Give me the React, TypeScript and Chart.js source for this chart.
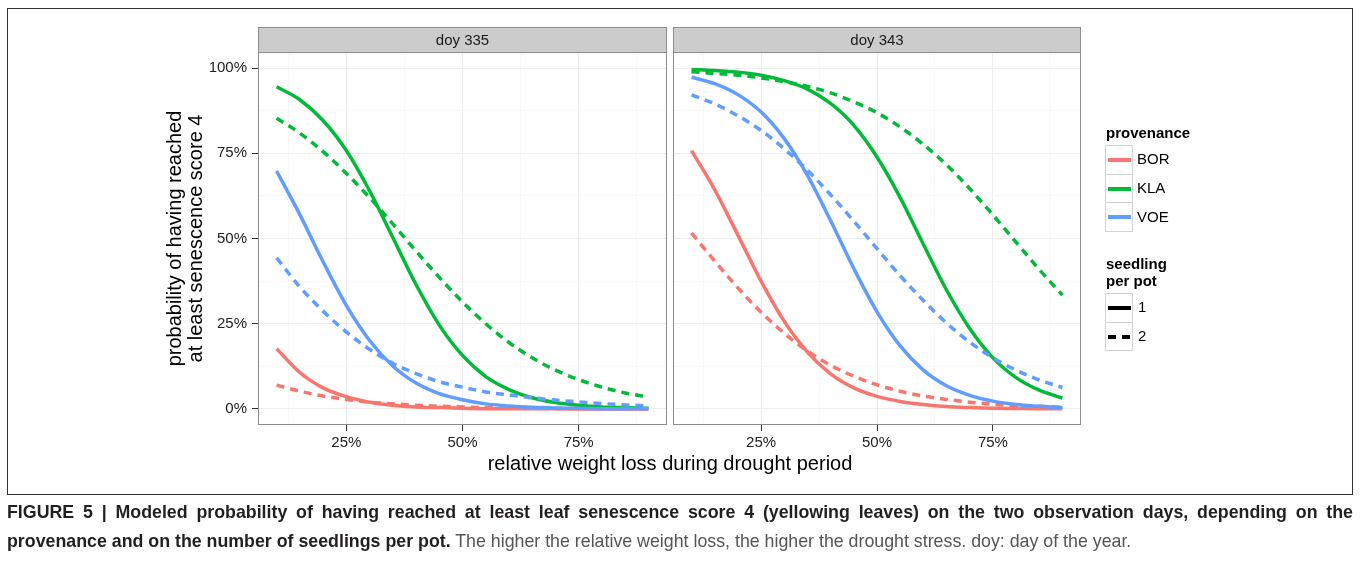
import React, { useEffect, useRef } from "react";
import { Chart, registerables } from "chart.js";

Chart.register(...registerables);

const FONT = '"Liberation Sans", Arial, Helvetica, sans-serif';

// ---------- data ----------
const panelLabels = ["doy 335", "doy 343"];
const provenances = ["BOR", "KLA", "VOE"];
const provenanceColors = ["#F8766D", "#00BA38", "#619CFF"];
const seedlingLevels = ["1", "2"];

const xLoss = [0.10, 0.15, 0.20, 0.25, 0.30, 0.35, 0.40, 0.45, 0.50, 0.55, 0.60, 0.65, 0.70, 0.75, 0.80, 0.85, 0.90];

const doy335_BOR_1 = [0.177, 0.107, 0.062, 0.036, 0.020, 0.011, 0.006, 0.004, 0.002, 0.001, 0.001, 0.0005, 0.0003, 0.0002, 0.0001, 0.0001, 0.0001];
const doy335_BOR_2 = [0.070, 0.052, 0.038, 0.028, 0.020, 0.015, 0.011, 0.008, 0.006, 0.004, 0.003, 0.002, 0.0015, 0.0011, 0.0008, 0.0006, 0.0004];
const doy335_KLA_1 = [0.945, 0.907, 0.846, 0.758, 0.640, 0.503, 0.365, 0.246, 0.157, 0.095, 0.057, 0.033, 0.019, 0.011, 0.006, 0.004, 0.002];
const doy335_KLA_2 = [0.853, 0.809, 0.755, 0.691, 0.620, 0.543, 0.463, 0.386, 0.314, 0.250, 0.195, 0.150, 0.114, 0.086, 0.064, 0.047, 0.035];
const doy335_VOE_1 = [0.698, 0.570, 0.432, 0.304, 0.201, 0.126, 0.076, 0.045, 0.027, 0.015, 0.009, 0.005, 0.003, 0.002, 0.001, 0.0006, 0.0003];
const doy335_VOE_2 = [0.443, 0.358, 0.287, 0.226, 0.175, 0.134, 0.104, 0.080, 0.064, 0.050, 0.041, 0.033, 0.026, 0.021, 0.016, 0.012, 0.009];

const doy343_BOR_1 = [0.758, 0.643, 0.510, 0.375, 0.257, 0.167, 0.103, 0.062, 0.037, 0.022, 0.013, 0.007, 0.004, 0.002, 0.0014, 0.0008, 0.0005];
const doy343_BOR_2 = [0.516, 0.434, 0.355, 0.284, 0.222, 0.170, 0.128, 0.096, 0.071, 0.052, 0.038, 0.028, 0.020, 0.014, 0.010, 0.008, 0.005];
const doy343_KLA_1 = [0.996, 0.993, 0.988, 0.979, 0.963, 0.938, 0.896, 0.832, 0.739, 0.620, 0.483, 0.349, 0.236, 0.150, 0.092, 0.055, 0.032];
const doy343_KLA_2 = [0.989, 0.984, 0.979, 0.971, 0.960, 0.946, 0.927, 0.901, 0.869, 0.827, 0.776, 0.716, 0.646, 0.569, 0.489, 0.409, 0.334];
const doy343_VOE_1 = [0.973, 0.954, 0.922, 0.871, 0.793, 0.685, 0.552, 0.412, 0.285, 0.185, 0.114, 0.068, 0.040, 0.023, 0.013, 0.008, 0.004];
const doy343_VOE_2 = [0.921, 0.895, 0.860, 0.817, 0.763, 0.700, 0.628, 0.551, 0.470, 0.391, 0.318, 0.252, 0.196, 0.150, 0.114, 0.085, 0.063];

const seriesByPanel = [
  { BOR: [doy335_BOR_1, doy335_BOR_2], KLA: [doy335_KLA_1, doy335_KLA_2], VOE: [doy335_VOE_1, doy335_VOE_2] },
  { BOR: [doy343_BOR_1, doy343_BOR_2], KLA: [doy343_KLA_1, doy343_KLA_2], VOE: [doy343_VOE_1, doy343_VOE_2] },
];

const yMajorTicks = [0, 0.25, 0.5, 0.75, 1];
const yMinorTicks = [0.125, 0.375, 0.625, 0.875];
const xMajorTicks = [0.25, 0.5, 0.75];
const xMinorTicks = [0.125, 0.375, 0.625, 0.875];
const xRange = [0.06, 0.94];
const yRange = [-0.047, 1.047];

const yTitle = ["probability of having reached", "at least senescence score 4"];
const xTitle = "relative weight loss during drought period";
const legendTitle1 = "provenance";
const legendTitle2 = ["seedling", "per pot"];
const captionLine1 =
  "FIGURE 5 | Modeled probability of having reached at least leaf senescence score 4 (yellowing leaves) on the two observation days, depending on the";
const captionBold2 = "provenance and on the number of seedlings per pot.";
const captionRest2 = " The higher the relative weight loss, the higher the drought stress. doy: day of the year.";

// ---------- layout ----------
const W = 1360;
const H = 564;
const panelBoxes = [
  { left: 258, right: 667 },
  { left: 673, right: 1081 },
];
const plotTop = 52;
const plotBottom = 425;
const stripH = 25;
const xAxisH = 30;
const yAxisW = 93;

const pct = (v: number) => `${Math.round(v * 100)}%`;
const isMajor = (arr: number[], v: number) => arr.some((m) => Math.abs(m - v) < 1e-9);

const panelFrame = {
  id: "panelFrame",
  afterDatasetsDraw(chart: any, _args: any, opts: any) {
    const { left, top, right, bottom } = chart.chartArea;
    const ctx = chart.ctx;
    ctx.save();
    ctx.fillStyle = "#CCCCCC";
    ctx.fillRect(left, top - stripH, right - left, stripH);
    ctx.strokeStyle = "#8C8C8C";
    ctx.lineWidth = 1;
    ctx.strokeRect(left + 0.5, top - stripH + 0.5, right - left - 1, stripH);
    ctx.strokeRect(left + 0.5, top + 0.5, right - left - 1, bottom - top - 1);
    ctx.fillStyle = "#1A1A1A";
    ctx.font = `15px ${FONT}`;
    ctx.textAlign = "center";
    ctx.textBaseline = "middle";
    ctx.fillText(opts.label, (left + right) / 2, top - stripH / 2 + 1);
    ctx.restore();
  },
};

function buildChart(canvas: HTMLCanvasElement, p: number) {
  const box = panelBoxes[p];
  const yW = p === 0 ? yAxisW : 0;
  const datasets: any[] = [];
  provenances.forEach((prov, i) => {
    seedlingLevels.forEach((_s, j) => {
      const vals = (seriesByPanel[p] as any)[prov][j] as number[];
      datasets.push({
        label: `${prov} ${seedlingLevels[j]}`,
        data: xLoss.map((x, k) => ({ x, y: vals[k] })),
        borderColor: provenanceColors[i],
        backgroundColor: provenanceColors[i],
        borderWidth: 3.5,
        borderDash: j === 1 ? [8, 6] : [],
        pointRadius: 0,
        fill: false,
        cubicInterpolationMode: "monotone",
        order: 3 - i,
      });
    });
  });

  const gridColor = (ctx: any, major: number[]) =>
    ctx.tick && isMajor(major, ctx.tick.value) ? "#EDEDED" : "#F8F8F8";
  const tickColor = (ctx: any, major: number[]) =>
    ctx.tick && isMajor(major, ctx.tick.value) ? "#333333" : "rgba(0,0,0,0)";

  return new Chart(canvas, {
    type: "line",
    data: { datasets },
    plugins: [panelFrame],
    options: {
      animation: false,
      responsive: false,
      devicePixelRatio: 1,
      layout: {
        padding: { left: box.left - yW, right: W - box.right, top: plotTop, bottom: H - plotBottom - xAxisH },
      },
      plugins: {
        legend: { display: false },
        tooltip: { enabled: false },
        panelFrame: { label: panelLabels[p] },
      } as any,
      scales: {
        x: {
          type: "linear",
          min: xRange[0],
          max: xRange[1],
          afterFit: (s: any) => {
            s.height = xAxisH;
          },
          afterBuildTicks: (s: any) => {
            s.ticks = [...xMinorTicks, ...xMajorTicks].sort((a, b) => a - b).map((v) => ({ value: v }));
          },
          border: { display: false },
          grid: {
            color: (c: any) => gridColor(c, xMajorTicks),
            tickColor: (c: any) => tickColor(c, xMajorTicks),
            tickLength: 6,
            lineWidth: 1,
          },
          ticks: {
            autoSkip: false,
            maxRotation: 0,
            padding: 3,
            color: "#222222",
            font: { family: FONT, size: 15 },
            callback: (v: any) => (isMajor(xMajorTicks, Number(v)) ? pct(Number(v)) : ""),
          },
        },
        y: {
          type: "linear",
          min: yRange[0],
          max: yRange[1],
          afterFit: (s: any) => {
            s.width = yW;
          },
          afterBuildTicks: (s: any) => {
            s.ticks = [...yMinorTicks, ...yMajorTicks].sort((a, b) => a - b).map((v) => ({ value: v }));
          },
          border: { display: false },
          grid: {
            color: (c: any) => gridColor(c, yMajorTicks),
            tickColor: (c: any) => tickColor(c, yMajorTicks),
            tickLength: 6,
            drawTicks: p === 0,
            lineWidth: 1,
          },
          ticks: {
            display: p === 0,
            autoSkip: false,
            padding: 5,
            color: "#222222",
            font: { family: FONT, size: 15 },
            callback: (v: any) => (isMajor(yMajorTicks, Number(v)) ? pct(Number(v)) : ""),
          },
          title: {
            display: p === 0,
            text: yTitle,
            color: "#000000",
            padding: 0,
            font: { family: FONT, size: 20, lineHeight: "21px" },
          },
        },
      },
    } as any,
  });
}

const abs = (s: React.CSSProperties): React.CSSProperties => ({ position: "absolute", ...s });

export default function App() {
  const c1 = useRef<HTMLCanvasElement>(null);
  const c2 = useRef<HTMLCanvasElement>(null);

  useEffect(() => {
    const charts = [buildChart(c1.current!, 0), buildChart(c2.current!, 1)];
    return () => charts.forEach((c) => c.destroy());
  }, []);

  const keyTop1 = 145;
  const keyTop2 = 293;
  const keyH = 28.7;

  return (
    <div style={abs({ left: 0, top: 0, width: W, height: H, background: "#fff", fontFamily: FONT, color: "#000" })}>
      <div style={abs({ left: 7, top: 8, width: 1346, height: 487, border: "1px solid #333", boxSizing: "border-box" })} />
      <canvas ref={c1} width={W} height={H} style={abs({ left: 0, top: 0, width: W, height: H })} />
      <canvas ref={c2} width={W} height={H} style={abs({ left: 0, top: 0, width: W, height: H })} />

      {/* x axis title */}
      <div style={abs({ left: 370, top: 451, width: 600, textAlign: "center", fontSize: 20, lineHeight: "24px" })}>{xTitle}</div>

      {/* legend: provenance */}
      <div style={abs({ left: 1106, top: 124, fontSize: 15, fontWeight: "bold", lineHeight: "18px" })}>{legendTitle1}</div>
      {provenances.map((prov, i) => (
        <React.Fragment key={prov}>
          <div
            style={abs({
              left: 1105,
              top: keyTop1 + i * keyH,
              width: 28,
              height: keyH + 1,
              border: "1px solid #D2D2D2",
              boxSizing: "border-box",
              background: "#fff",
            })}
          >
            <div style={abs({ left: 2, top: keyH / 2 - 2.5, width: 23, height: 4, background: provenanceColors[i] })} />
          </div>
          <div style={abs({ left: 1137, top: keyTop1 + i * keyH + keyH / 2 - 9, fontSize: 15, lineHeight: "18px" })}>{prov}</div>
        </React.Fragment>
      ))}

      {/* legend: seedling per pot */}
      <div style={abs({ left: 1106, top: 255, fontSize: 15, fontWeight: "bold", lineHeight: "17px" })}>
        {legendTitle2[0]}
        <br />
        {legendTitle2[1]}
      </div>
      {seedlingLevels.map((s, j) => (
        <React.Fragment key={s}>
          <div
            style={abs({
              left: 1105,
              top: keyTop2 + j * keyH,
              width: 28,
              height: keyH + 1,
              border: "1px solid #D2D2D2",
              boxSizing: "border-box",
              background: "#fff",
            })}
          >
            {j === 0 ? (
              <div style={abs({ left: 2, top: keyH / 2 - 2.5, width: 23, height: 4, background: "#000" })} />
            ) : (
              <>
                <div style={abs({ left: 2, top: keyH / 2 - 2.5, width: 8, height: 4, background: "#000" })} />
                <div style={abs({ left: 16, top: keyH / 2 - 2.5, width: 8, height: 4, background: "#000" })} />
              </>
            )}
          </div>
          <div style={abs({ left: 1138, top: keyTop2 + j * keyH + keyH / 2 - 9, fontSize: 15, lineHeight: "18px" })}>{s}</div>
        </React.Fragment>
      ))}

      {/* caption */}
      <div
        style={abs({
          left: 7,
          top: 502,
          width: 1346,
          fontSize: 17.8,
          fontWeight: "bold",
          lineHeight: "20px",
          textAlign: "justify",
          textAlignLast: "justify",
          color: "#231F20",
        })}
      >
        {captionLine1}
      </div>
      <div style={abs({ left: 7, top: 531, width: 1346, fontSize: 17.8, lineHeight: "20px", color: "#231F20" })}>
        <span style={{ fontWeight: "bold" }}>{captionBold2}</span>
        <span style={{ color: "#555" }}>{captionRest2}</span>
      </div>
    </div>
  );
}
